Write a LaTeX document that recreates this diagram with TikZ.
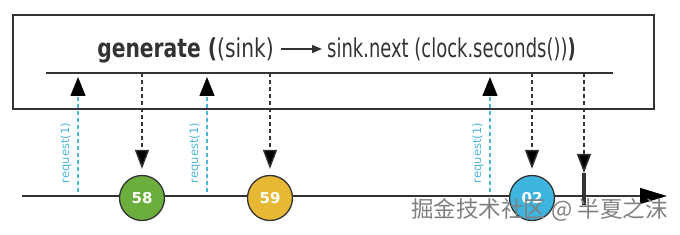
\documentclass[tikz,border=0pt]{standalone}
\usepackage{fontspec}
\setmainfont{DejaVu Sans}
\newfontfamily\cjk{Noto Sans CJK SC}
\usetikzlibrary{arrows.meta}
\definecolor{ink}{HTML}{333333}
\definecolor{reqblue}{HTML}{4DB3D9}
\definecolor{ballgreen}{HTML}{6BAE3C}
\definecolor{ballyellow}{HTML}{E6B833}
\definecolor{ballblue}{HTML}{3DB5DE}
\newcommand{\narrow}[2][0.69]{\scalebox{#1}[1]{#2}}

\begin{document}
\begin{tikzpicture}[x=1pt,y=-1pt,
  title/.style={inner sep=0pt,text=ink,font=\fontsize{26}{28}\selectfont},
  ball/.style={circle,draw=ink,line width=1.3pt,minimum size=45pt,inner sep=0pt,
    text=white,font=\bfseries\fontsize{15}{15}\selectfont},
  emit/.style={ink,dash pattern=on 4pt off 3pt,line width=1.4pt,
    -{Triangle[length=19pt,width=14pt,fill=black]},shorten >=6pt},
  ask/.style={reqblue,dash pattern=on 4pt off 3pt,line width=1.4pt,
    -{Triangle[length=19pt,width=15pt,black,fill=black]}},
  asklabel/.style={rotate=90,text=reqblue,font=\fontsize{11.5}{12}\selectfont}]
  \useasboundingbox (0,0) rectangle (680,235);
  \draw[ink,line width=1.3pt] (13,15) rectangle (654,109);
  % operator
  \node[title,anchor=base east] (gen) at (274,58)
    {\narrow[0.78]{\textbf{generate (}(sink)}};
  \node[title,anchor=base west] (nxt) at (327,58)
    {\narrow{sink.next (clock.seconds())\textbf{)}}};
  \draw[ink,line width=1.4pt,-{Triangle[length=10pt,width=8pt]},shorten >=5pt] (gen.base east) ++(7,-9) coordinate (a0) -- (a0 -| nxt.west) coordinate (a1);
  \coordinate (p0) at (46,73);
  \coordinate (p1) at (613,73);
  \draw[ink,line width=1.3pt] (p0) -- (p1);
  % timeline
  \coordinate (t0) at (22,196);
  \coordinate (t1) at (667,196);
  \draw[ink,line width=1.3pt,-{Triangle[length=27pt,width=16pt,black]}] (t0) -- (t1);
  \node[ball,fill=ballgreen] (b58) at (142,198) {58};
  \node[ball,fill=ballyellow] (b59) at (270,198) {59};
  \node[ball,fill=ballblue] (b02) at (532,198) {02};
  % requests
  \foreach \x/\n in {78/1,207/2,490/3}{
    \coordinate (r\n) at (\x,192);
    \coordinate (q\n) at (\x,77);
    \draw[ask] (r\n) -- (q\n);
    \node[asklabel] (l\n) at (\x-12,153) {request(1)};
  }
  % emissions
  \foreach \x/\b in {142/b58,270/b59,532/b02}{
    \coordinate (s\b) at (\x,73);
    \draw[emit] (s\b) -- (\b);
  }
  \coordinate (s4) at (584,73);
  \coordinate (c4) at (584,173);
  \coordinate (d4) at (584,205);
  \draw[emit,shorten >=0pt] (s4) -- (c4);
  \draw[ink,line width=3.5pt] (c4) -- (d4);
  % watermark
  \node[text=black!50,font=\cjk\fontsize{22.5}{23}\selectfont,anchor=east,inner sep=0pt] (wm) at (668,210)
    {掘金技术社区 @ 半夏之沫};
\end{tikzpicture}
\end{document}
